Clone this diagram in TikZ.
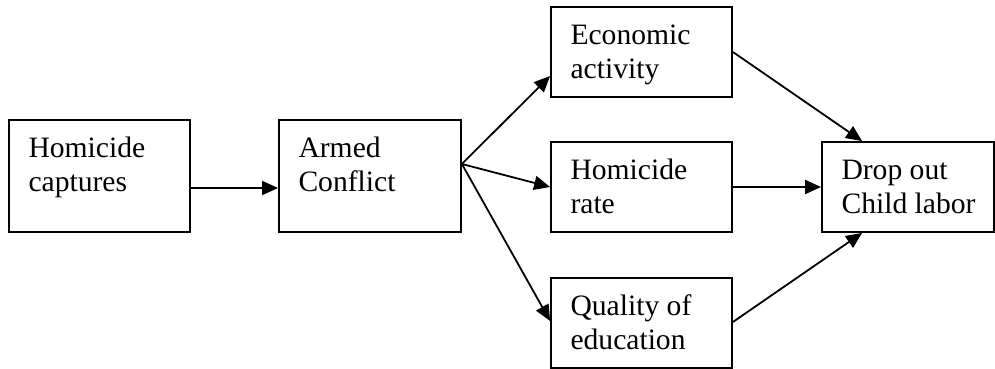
\documentclass[tikz,border=0pt]{standalone}
\usepackage{fontspec}
\setmainfont{Liberation Serif}
\usetikzlibrary{arrows.meta,calc}
\tikzset{
  box/.style={draw, line width=0.9pt, inner sep=0pt, rectangle},
  lbl/.style={anchor=base west, inner sep=0pt, align=left, font=\fontsize{14.8}{17}\selectfont},
  conn/.style={line width=0.9pt, -{Triangle[length=8pt,width=7pt]}}
}
\begin{document}
\begin{tikzpicture}[x=0.5pt,y=-0.5pt]
\useasboundingbox (0,0) rectangle (995,369);
\node[box, minimum width=90.5pt, minimum height=56pt] (b1) at (99.5,176) {};
\node[box, minimum width=91pt, minimum height=56pt] (b2) at (370,176) {};
\node[box, minimum width=90.5pt, minimum height=45pt] (b3) at (641.5,52) {};
\node[box, minimum width=90.5pt, minimum height=45pt] (b4) at (641.5,187) {};
\node[box, minimum width=90.5pt, minimum height=45pt] (b5) at (641.5,323) {};
\node[box, minimum width=86pt, minimum height=45pt] (b6) at (908,187) {};
\node[lbl] (t1) at ([shift={(10pt,-36pt)}]b1.north west) {Homicide\\captures};
\node[lbl] (t2) at ([shift={(10pt,-36pt)}]b2.north west) {Armed\\Conflict};
\node[lbl] (t3) at ([shift={(10pt,-36pt)}]b3.north west) {Economic\\activity};
\node[lbl] (t4) at ([shift={(10pt,-36pt)}]b4.north west) {Homicide\\rate};
\node[lbl] (t5) at ([shift={(10pt,-36pt)}]b5.north west) {Quality of\\education};
\node[lbl] (t6) at ([shift={(10pt,-36pt)}]b6.north west) {Drop out\\Child labor};
\coordinate (fan) at ([yshift=6pt]b2.east);
\draw[conn] ([yshift=-6pt]b1.east) -- ([yshift=-6pt]b2.west);
\draw[conn] (fan) -- ([yshift=-12pt]b3.west);
\draw[conn] (fan) -- (b4.west);
\draw[conn] (fan) -- ([yshift=1pt]b5.west);
\draw[conn] (b3.east) -- ([xshift=20.5pt]b6.north west);
\draw[conn] (b4.east) -- (b6.west);
\draw[conn] ([yshift=0.5pt]b5.east) -- ([xshift=20.5pt]b6.south west);
\end{tikzpicture}
\end{document}
